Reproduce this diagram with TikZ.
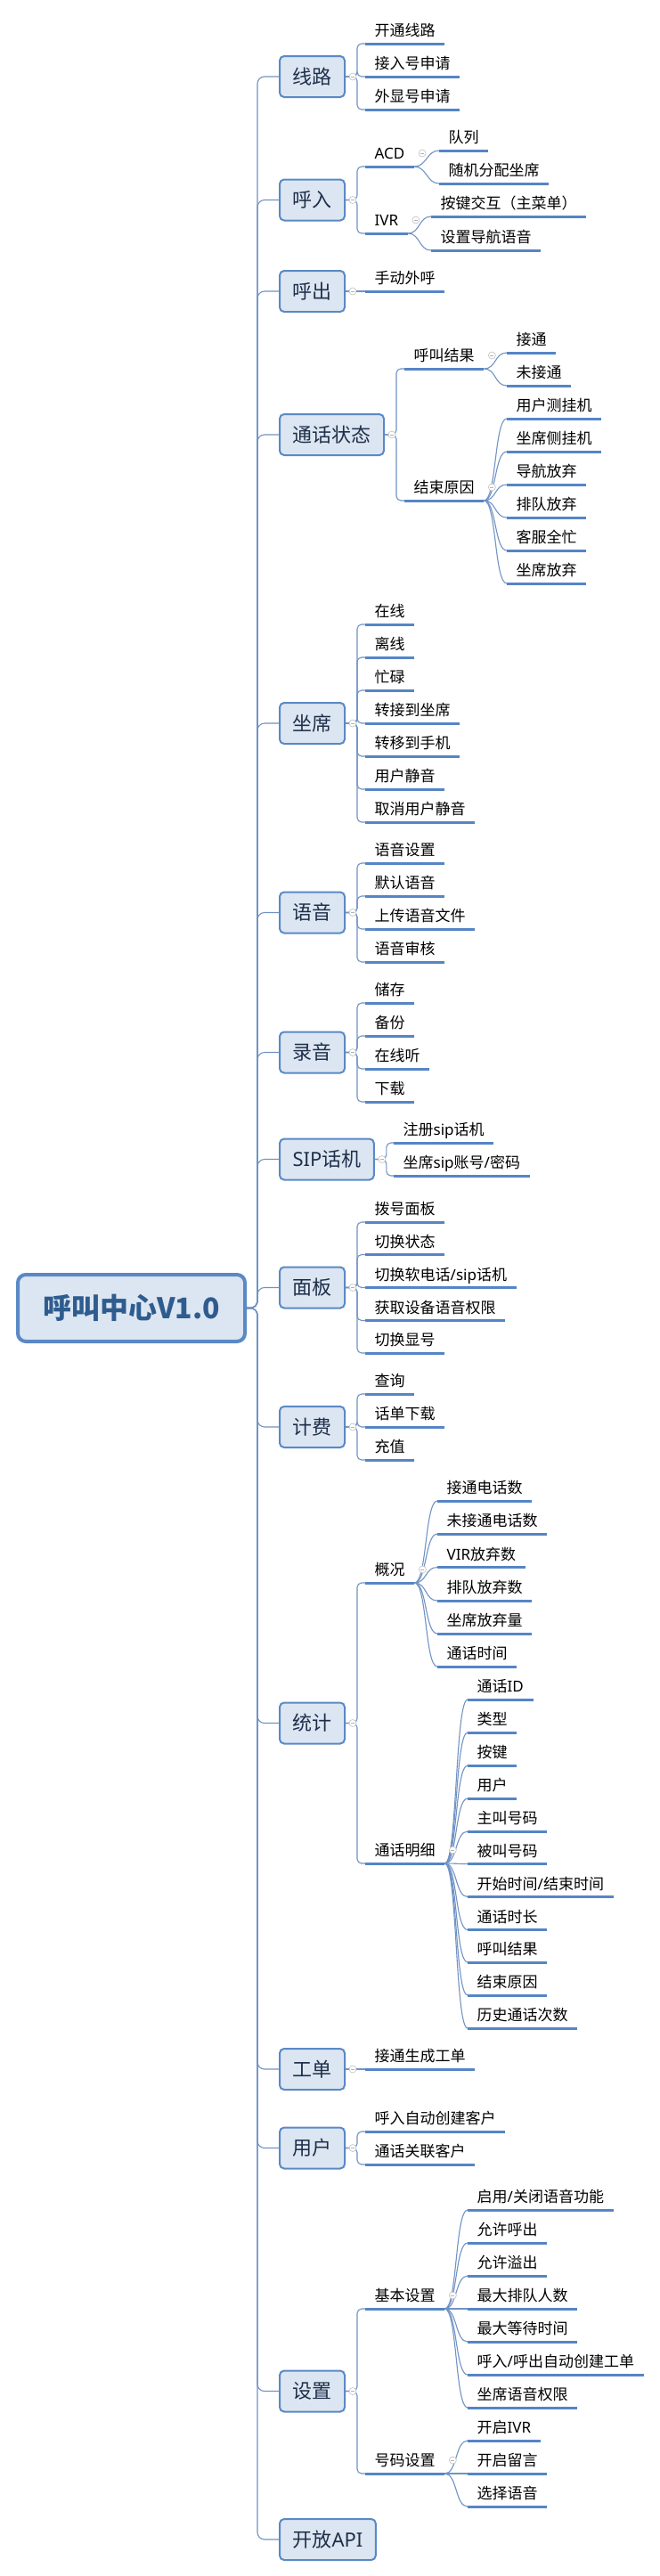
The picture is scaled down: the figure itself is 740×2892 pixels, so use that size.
\documentclass[tikz,border=0pt]{standalone}
\usepackage{fontspec}
\newfontfamily\cjk{Noto Sans CJK SC}
\newfontfamily\lat{Noto Sans}
\definecolor{connc}{HTML}{7193C4}
\definecolor{ulc}{HTML}{5585C5}
\definecolor{boxf}{HTML}{DCE6F2}
\definecolor{boxb}{HTML}{5A89C6}
\definecolor{rootc}{HTML}{2F5C8F}
\definecolor{topc}{HTML}{1F2F4A}
\tikzset{
  conn/.style={draw=connc, line width=1.1pt, rounded corners=5pt},
  trunk/.style={draw=connc, line width=1.1pt, rounded corners=8pt},
  curv/.style={draw=connc, line width=1.1pt},
  rootbox/.style={draw=boxb, line width=4pt, fill=boxf, rounded corners=9pt,
    minimum width=255pt, minimum height=75pt, inner sep=0pt,
    font=\cjk\bfseries\fontsize{32pt}{36pt}\selectfont, text=rootc},
  topic/.style={anchor=west, draw=boxb, line width=2pt, fill=boxf, rounded corners=5pt,
    minimum height=46pt, inner xsep=14.5pt, inner ysep=0pt,
    font=\cjk\fontsize{22pt}{26pt}\selectfont, text=topc},
  ulline/.style={draw=ulc, line width=3pt, -},
  leaf/.style={anchor=south west, inner xsep=10.5pt, inner ysep=0pt,
    text height=15pt, text depth=8pt,
    font=\cjk\fontsize{17pt}{20pt}\selectfont, text=black,
    append after command={(\tikzlastnode.south west) edge[ulline] (\tikzlastnode.south east)}},
  fold/.style={circle, draw=gray!50, fill=white, line width=0.6pt, minimum size=8pt, inner sep=0pt,
    path picture={\draw[gray!60, line width=0.6pt] ([xshift=-2pt]path picture bounding box.center) -- ([xshift=2pt]path picture bounding box.center);}},
}
\begin{document}
\begin{tikzpicture}[x=1pt,y=-1pt]
\fill[white] (0,0) rectangle (740,2892);
\useasboundingbox (0,0) rectangle (740,2892);

% root
\node[rootbox] (root) at (147.5,1468.5) {呼叫中心V1.0};

% level 1 topics
\node[topic] (t1) at (313,86) {线路};
\node[topic] (t2) at (313,224.5) {呼入};
\node[topic] (t3) at (313,327) {呼出};
\node[topic] (t4) at (313,488) {通话状态};
\node[topic] (t5) at (313,812) {坐席};
\node[topic] (t6) at (313,1024.5) {语音};
\node[topic] (t7) at (313,1181.5) {录音};
\node[topic] (t8) at (313,1301.5) {{\lat SIP}话机};
\node[topic] (t9) at (313,1445.5) {面板};
\node[topic] (t10) at (313,1602) {计费};
\node[topic] (t11) at (313,1934.5) {统计};
\node[topic] (t12) at (313,2323) {工单};
\node[topic] (t13) at (313,2411.5) {用户};
\node[topic] (t14) at (313,2684.5) {设置};
\node[topic] (t15) at (313,2851) {开放{\lat API}};

% trunk
\foreach \t in {t1,t2,t3,t4,t5,t6,t7,t8,t9,t10,t11,t12,t13,t14,t15}
  \draw[trunk] (root.east) -- ++(12,0) |- (\t.west);

% 线路
\node[leaf] (a1) at (410,49) {开通线路};
\node[leaf] (a2) at (410,86) {接入号申请};
\node[leaf] (a3) at (410,123) {外显号申请};
\foreach \c in {a1,a2,a3} \draw[conn] (t1.east) -- ++(13,0) |- (\c.south west);

% 呼入
\node[leaf] (b1) at (410,187) {{\lat ACD}};
\node[leaf] (b2) at (410,262) {{\lat IVR}};
\foreach \c in {b1,b2} \draw[conn] (t2.east) -- ++(13,0) |- (\c.south west);
\node[leaf] (b11) at (493,169) {队列};
\node[leaf] (b12) at (493,206) {随机分配坐席};
\node[leaf] (b21) at (484,243) {按键交互（主菜单）};
\node[leaf] (b22) at (484,281) {设置导航语音};
\foreach \c in {b11,b12} \draw[curv] (b1.south east) .. controls +(14,0) and +(-14,0) .. (\c.south west);
\foreach \c in {b21,b22} \draw[curv] (b2.south east) .. controls +(14,0) and +(-14,0) .. (\c.south west);

% 呼出
\node[leaf] (n1) at (410,327) {手动外呼};
\draw[conn] (t3.east) -- (n1.south west);

% 通话状态
\node[leaf] (m1) at (454,414) {呼叫结果};
\node[leaf] (m2) at (454,562) {结束原因};
\foreach \c in {m1,m2} \draw[conn] (t4.east) -- ++(13,0) |- (\c.south west);
\node[leaf] (m11) at (569,396) {接通};
\node[leaf] (m12) at (569,433) {未接通};
\foreach \c in {m11,m12} \draw[curv] (m1.south east) .. controls +(14,0) and +(-14,0) .. (\c.south west);
\node[leaf] (m21) at (569,470) {用户测挂机};
\node[leaf] (m22) at (569,507) {坐席侧挂机};
\node[leaf] (m23) at (569,544) {导航放弃};
\node[leaf] (m24) at (569,581) {排队放弃};
\node[leaf] (m25) at (569,618) {客服全忙};
\node[leaf] (m26) at (569,655) {坐席放弃};
\foreach \c in {m21,m22,m23,m24,m25,m26} \draw[curv] (m2.south east) .. controls +(14,0) and +(-14,0) .. (\c.south west);

% 坐席
\node[leaf] (c1) at (410,701) {在线};
\node[leaf] (c2) at (410,738) {离线};
\node[leaf] (c3) at (410,775) {忙碌};
\node[leaf] (c4) at (410,812) {转接到坐席};
\node[leaf] (c5) at (410,849) {转移到手机};
\node[leaf] (c6) at (410,886) {用户静音};
\node[leaf] (c7) at (410,923) {取消用户静音};
\foreach \c in {c1,c2,c3,c4,c5,c6,c7} \draw[conn] (t5.east) -- ++(13,0) |- (\c.south west);

% 语音
\node[leaf] (d1) at (410,969) {语音设置};
\node[leaf] (d2) at (410,1006) {默认语音};
\node[leaf] (d3) at (410,1043) {上传语音文件};
\node[leaf] (d4) at (410,1080) {语音审核};
\foreach \c in {d1,d2,d3,d4} \draw[conn] (t6.east) -- ++(13,0) |- (\c.south west);

% 录音
\node[leaf] (e1) at (410,1126) {储存};
\node[leaf] (e2) at (410,1163) {备份};
\node[leaf] (e3) at (410,1200) {在线听};
\node[leaf] (e4) at (410,1237) {下载};
\foreach \c in {e1,e2,e3,e4} \draw[conn] (t7.east) -- ++(13,0) |- (\c.south west);

% SIP话机
\node[leaf] (f1) at (442,1283) {注册{\lat sip}话机};
\node[leaf] (f2) at (442,1320) {坐席{\lat sip}账号{\lat /}密码};
\foreach \c in {f1,f2} \draw[conn] (t8.east) -- ++(13,0) |- (\c.south west);

% 面板
\node[leaf] (g1) at (410,1372) {拨号面板};
\node[leaf] (g2) at (410,1408.5) {切换状态};
\node[leaf] (g3) at (410,1445.5) {切换软电话{\lat /sip}话机};
\node[leaf] (g4) at (410,1482.5) {获取设备语音权限};
\node[leaf] (g5) at (410,1519) {切换显号};
\foreach \c in {g1,g2,g3,g4,g5} \draw[conn] (t9.east) -- ++(13,0) |- (\c.south west);

% 计费
\node[leaf] (h1) at (410,1565) {查询};
\node[leaf] (h2) at (410,1602) {话单下载};
\node[leaf] (h3) at (410,1639) {充值};
\foreach \c in {h1,h2,h3} \draw[conn] (t10.east) -- ++(13,0) |- (\c.south west);

% 统计
\node[leaf] (i1) at (410,1777) {概况};
\node[leaf] (i2) at (410,2092) {通话明细};
\foreach \c in {i1,i2} \draw[conn] (t11.east) -- ++(13,0) |- (\c.south west);
\node[leaf] (i11) at (491,1685) {接通电话数};
\node[leaf] (i12) at (491,1722) {未接通电话数};
\node[leaf] (i13) at (491,1759.5) {{\lat VIR}放弃数};
\node[leaf] (i14) at (491,1797) {排队放弃数};
\node[leaf] (i15) at (491,1834) {坐席放弃量};
\node[leaf] (i16) at (491,1871) {通话时间};
\foreach \c in {i11,i12,i13,i14,i15,i16} \draw[curv] (i1.south east) .. controls +(14,0) and +(-14,0) .. (\c.south west);
\node[leaf] (i21) at (525,1908) {通话{\lat ID}};
\node[leaf] (i22) at (525,1945) {类型};
\node[leaf] (i23) at (525,1982) {按键};
\node[leaf] (i24) at (525,2019) {用户};
\node[leaf] (i25) at (525,2056) {主叫号码};
\node[leaf] (i26) at (525,2092.5) {被叫号码};
\node[leaf] (i27) at (525,2129.5) {开始时间{\lat /}结束时间};
\node[leaf] (i28) at (525,2166.5) {通话时长};
\node[leaf] (i29) at (525,2203) {呼叫结果};
\node[leaf] (i210) at (525,2240) {结束原因};
\node[leaf] (i211) at (525,2277) {历史通话次数};
\foreach \c in {i21,i22,i23,i24,i25,i26,i27,i28,i29,i210,i211} \draw[curv] (i2.south east) .. controls +(14,0) and +(-14,0) .. (\c.south west);

% 工单
\node[leaf] (j1) at (410,2323) {接通生成工单};
\draw[conn] (t12.east) -- (j1.south west);

% 用户
\node[leaf] (k1) at (410,2393) {呼入自动创建客户};
\node[leaf] (k2) at (410,2430) {通话关联客户};
\foreach \c in {k1,k2} \draw[conn] (t13.east) -- ++(13,0) |- (\c.south west);

% 设置
\node[leaf] (l1) at (410,2592) {基本设置};
\node[leaf] (l2) at (410,2777) {号码设置};
\foreach \c in {l1,l2} \draw[conn] (t14.east) -- ++(13,0) |- (\c.south west);
\node[leaf] (l11) at (525,2481) {启用{\lat /}关闭语音功能};
\node[leaf] (l12) at (525,2518) {允许呼出};
\node[leaf] (l13) at (525,2555) {允许溢出};
\node[leaf] (l14) at (525,2592) {最大排队人数};
\node[leaf] (l15) at (525,2629) {最大等待时间};
\node[leaf] (l16) at (525,2666) {呼入{\lat /}呼出自动创建工单};
\node[leaf] (l17) at (525,2703) {坐席语音权限};
\foreach \c in {l11,l12,l13,l14,l15,l16,l17} \draw[curv] (l1.south east) .. controls +(14,0) and +(-14,0) .. (\c.south west);
\node[leaf] (l21) at (525,2740) {开启{\lat IVR}};
\node[leaf] (l22) at (525,2777) {开启留言};
\node[leaf] (l23) at (525,2814) {选择语音};
\foreach \c in {l21,l22,l23} \draw[curv] (l2.south east) .. controls +(14,0) and +(-14,0) .. (\c.south west);

% fold markers
\foreach \t [count=\k] in {t1,t2,t3,t4,t5,t6,t7,t8,t9,t10,t11,t12,t13,t14}
  \node[fold] (ft\k) at ([xshift=8pt]\t.east) {};
\foreach \p [count=\k] in {b1,b2,m1,m2,i1,i2,l1,l2}
  \node[fold] (fp\k) at ([xshift=9pt,yshift=15pt]\p.south east) {};
\end{tikzpicture}
\end{document}
